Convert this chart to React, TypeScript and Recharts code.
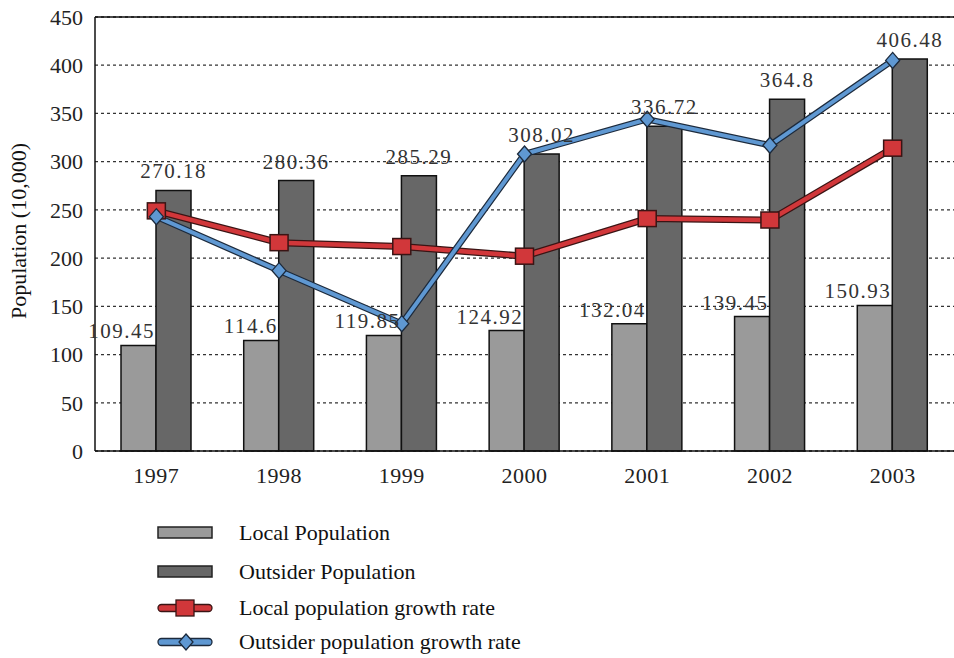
import React from 'react';
import {
  ComposedChart,
  Bar,
  Line,
  XAxis,
  YAxis,
  CartesianGrid,
  ReferenceLine,
  LabelList,
  Legend,
} from 'recharts';

const years = ['1997', '1998', '1999', '2000', '2001', '2002', '2003'];
const localPopulation = [109.45, 114.6, 119.85, 124.92, 132.04, 139.45, 150.93];
const outsiderPopulation = [270.18, 280.36, 285.29, 308.02, 336.72, 364.8, 406.48];
const localGrowth = [249, 216, 212, 202, 241, 239.5, 314];
const outsiderGrowth = [243, 187, 132, 308, 344, 317, 405];
const yTicks = [0, 50, 100, 150, 200, 250, 300, 350, 400, 450];

const data = years.map((y, i) => ({
  year: y,
  local: localPopulation[i],
  outsider: outsiderPopulation[i],
  localRate: localGrowth[i],
  outsiderRate: outsiderGrowth[i],
}));

const FONT = 'Liberation Serif, Tinos, Times New Roman, Noto Serif, DejaVu Serif, serif';
const RED = '#d1373a';
const RED_EDGE = '#3a1414';
const BLUE = '#5f98d2';
const BLUE_EDGE = '#1c2a3c';
const LIGHT = '#9a9a9a';
const DARK = '#676767';

const SquareDot = (props: any) => {
  const { cx, cy } = props;
  if (cx == null || cy == null) return null;
  return <rect x={cx - 9} y={cy - 8} width={18} height={16} fill={RED} stroke={RED_EDGE} strokeWidth={1.5} />;
};

const DiamondDot = (props: any) => {
  const { cx, cy } = props;
  if (cx == null || cy == null) return null;
  return (
    <path
      d={`M${cx},${cy - 8} L${cx + 7},${cy} L${cx},${cy + 8} L${cx - 7},${cy} Z`}
      fill={BLUE}
      stroke={BLUE_EDGE}
      strokeWidth={1.3}
    />
  );
};

const localLabel = (props: any) => {
  const { x, y, width, value } = props;
  return (
    <text x={x + width - 1} y={y - 7} textAnchor="end" style={{ fontFamily: FONT }} fontSize={21} letterSpacing={1.5} fill="#333">
      {value}
    </text>
  );
};

const outsiderLabel = (props: any) => {
  const { x, y, width, value } = props;
  return (
    <text x={x + width / 2} y={y - 12} textAnchor="middle" style={{ fontFamily: FONT }} fontSize={21} letterSpacing={1.5} fill="#333">
      {value}
    </text>
  );
};

const legendItems = [
  { label: 'Local Population', kind: 'bar', color: LIGHT, h: 41 },
  { label: 'Outsider Population', kind: 'bar', color: DARK, h: 37 },
  { label: 'Local population growth rate', kind: 'square', color: RED, h: 35 },
  { label: 'Outsider population growth rate', kind: 'diamond', color: BLUE, h: 34 },
];

const LegendIcon = ({ kind, color }: { kind: string; color: string }) => (
  <svg width={56} height={20} style={{ display: 'block' }}>
    {kind === 'bar' && <rect x={1} y={4} width={54} height={11} fill={color} stroke="#222" strokeWidth={1.5} />}
    {kind === 'square' && (
      <g>
        <rect x={1} y={6.5} width={54} height={7} rx={3.5} fill={color} stroke={RED_EDGE} strokeWidth={1.3} />
        <rect x={19} y={2} width={18} height={16} fill={color} stroke={RED_EDGE} strokeWidth={1.3} />
      </g>
    )}
    {kind === 'diamond' && (
      <g>
        <rect x={1} y={6.5} width={54} height={7} rx={3.5} fill={color} stroke={BLUE_EDGE} strokeWidth={1.3} />
        <path d="M29,2 L36,10 L29,18 L22,10 Z" fill={color} stroke={BLUE_EDGE} strokeWidth={1.3} />
      </g>
    )}
  </svg>
);

const renderLegend = () => (
  <div style={{ fontFamily: FONT, fontSize: 22, color: '#111' }}>
    {legendItems.map((it) => (
      <div key={it.label} style={{ display: 'flex', alignItems: 'center', height: it.h }}>
        <LegendIcon kind={it.kind} color={it.color} />
        <span style={{ marginLeft: 26, whiteSpace: 'nowrap' }}>{it.label}</span>
      </div>
    ))}
  </div>
);

const yLabel = () => (
  <text
    x={18}
    y={231}
    transform="rotate(-90 18 231)"
    textAnchor="middle"
    dominantBaseline="central"
    style={{ fontFamily: FONT }}
    fontSize={22}
    fill="#111"
  >
    Population (10,000)
  </text>
);

export default function App() {
  return (
    <div style={{ position: 'absolute', left: 0, top: 0, width: 954, height: 658, background: '#fff', fontFamily: FONT }}>
      <ComposedChart
        width={954}
        height={658}
        data={data}
        margin={{ top: 17, right: 0, left: 0, bottom: 177 }}
        barGap={0}
        style={{ fontFamily: FONT }}
      >
        <CartesianGrid horizontal vertical={false} stroke="#333" strokeWidth={1.3} strokeDasharray="3 3" />
        <XAxis
          dataKey="year"
          axisLine={{ stroke: '#111', strokeWidth: 1.5 }}
          tickLine={false}
          tickMargin={10}
          tick={{ fontSize: 22, fill: '#222', letterSpacing: 0.5, style: { fontFamily: FONT } }}
        />
        <YAxis
          width={95}
          domain={[0, 450]}
          ticks={yTicks}
          interval={0}
          axisLine={{ stroke: '#111', strokeWidth: 1.5 }}
          tickLine={false}
          tickMargin={6}
          tick={{ fontSize: 22, fill: '#222', style: { fontFamily: FONT } }}
          label={{ content: yLabel }}
        />
        <ReferenceLine y={450} stroke="#111" strokeWidth={1.5} />
        <Bar dataKey="local" barSize={35} fill={LIGHT} stroke="#111" strokeWidth={1.5} isAnimationActive={false}>
          <LabelList dataKey="local" content={localLabel} />
        </Bar>
        <Bar dataKey="outsider" barSize={35} fill={DARK} stroke="#111" strokeWidth={1.5} isAnimationActive={false}>
          <LabelList dataKey="outsider" content={outsiderLabel} />
        </Bar>
        <Line dataKey="localRate" stroke={RED_EDGE} strokeWidth={7} dot={false} activeDot={false} isAnimationActive={false} legendType="none" />
        <Line dataKey="localRate" stroke={RED} strokeWidth={4.5} dot={<SquareDot />} activeDot={false} isAnimationActive={false} legendType="none" />
        <Line dataKey="outsiderRate" stroke={BLUE_EDGE} strokeWidth={6.5} dot={false} activeDot={false} isAnimationActive={false} legendType="none" />
        <Line dataKey="outsiderRate" stroke={BLUE} strokeWidth={4} dot={<DiamondDot />} activeDot={false} isAnimationActive={false} legendType="none" />
        <Legend
          layout="vertical"
          align="center"
          verticalAlign="middle"
          content={renderLegend}
          wrapperStyle={{ left: 157, top: 512, width: 500, height: 146 }}
        />
      </ComposedChart>
    </div>
  );
}
